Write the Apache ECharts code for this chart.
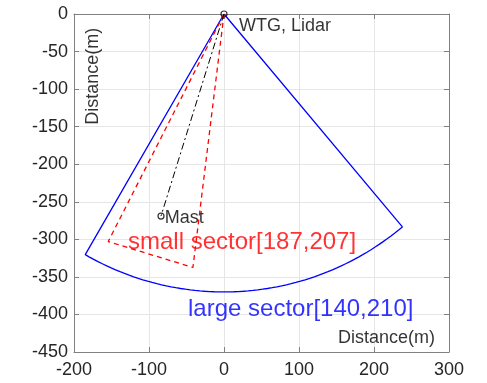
<!DOCTYPE html>
<html>
<head>
<meta charset="utf-8">
<script src="https://cdn.jsdelivr.net/npm/echarts@6/dist/echarts.min.js"></script>
<style>
  html, body { margin: 0; padding: 0; background: #fff; }
  #chart { width: 487px; height: 383px; }
</style>
</head>
<body>
<div id="chart"></div>
<script>
// sector angles (bearing, degrees clockwise from north) and ranges
var largeSector = [140, 210];
var smallSector = [187, 207];
var largeRadius = 370;
var smallRadius = 340;
var lidarPos = [0, 0];
var mastPos = [-84, -269];
var xTicks = [-200, 300, 100];
var yTicks = [-450, 0, 50];

function polar(r, deg) {
    var a = deg * Math.PI / 180;
    return [r * Math.sin(a), r * Math.cos(a)];
}

// large sector: two radii + arc
var largeLine = [lidarPos];
for (var d = largeSector[0]; d <= largeSector[1]; d += 1) {
    largeLine.push(polar(largeRadius, d));
}
largeLine.push(lidarPos);

// small sector: two radii + straight chord
var smallLine = [lidarPos, polar(smallRadius, smallSector[0]), polar(smallRadius, smallSector[1]), lidarPos];

var mastLine = [lidarPos, mastPos];

var font = 'Liberation Sans, Arial, sans-serif';
var txt = '#262626';

var dom = document.getElementById('chart');
var myChart = echarts.init(dom);

function xAxisDef(pos, labels) {
    return {
        type: 'value', position: pos,
        min: xTicks[0], max: xTicks[1], interval: xTicks[2],
        axisLine: { show: true, onZero: false, lineStyle: { color: '#808080', width: 1 } },
        axisTick: { show: true, inside: true, length: 5, lineStyle: { color: '#808080' } },
        axisLabel: { show: labels, color: txt, fontSize: 18, fontFamily: font, margin: 9 },
        splitLine: { show: labels, lineStyle: { color: '#e6e6e6', width: 1 } }
    };
}
function yAxisDef(pos, labels) {
    return {
        type: 'value', position: pos,
        min: yTicks[0], max: yTicks[1], interval: yTicks[2],
        axisLine: { show: true, onZero: false, lineStyle: { color: '#808080', width: 1 } },
        axisTick: { show: true, inside: true, length: 5, lineStyle: { color: '#808080' } },
        axisLabel: { show: labels, color: txt, fontSize: 18, fontFamily: font, margin: 6 },
        splitLine: { show: labels, lineStyle: { color: '#e6e6e6', width: 1 } }
    };
}

function note(x, y, text, color, size, rotate) {
    return {
        value: [x, y],
        label: {
            show: true, formatter: text, color: color, fontSize: size, fontFamily: font,
            position: rotate ? 'inside' : 'right', distance: 0, rotate: rotate || 0
        }
    };
}

var option = {
    animation: false,
    grid: { left: 74, right: 38, top: 14, bottom: 31 },
    xAxis: [xAxisDef('bottom', true), xAxisDef('top', false)],
    yAxis: [yAxisDef('left', true), yAxisDef('right', false)],
    series: [
        {
            type: 'line', data: largeLine, showSymbol: false,
            lineStyle: { color: '#0000ff', width: 1.3 }
        },
        {
            type: 'line', data: smallLine, showSymbol: false,
            lineStyle: { color: '#ff0000', width: 1.3, type: [5, 4] }
        },
        {
            type: 'line', data: mastLine, showSymbol: false,
            lineStyle: { color: '#000000', width: 1, type: [7, 3, 2, 3] }
        },
        {
            type: 'scatter', data: [lidarPos, mastPos],
            symbol: 'circle', symbolSize: 6,
            itemStyle: { color: 'transparent', borderColor: '#000', borderWidth: 1.2 }
        },
        {
            type: 'scatter', symbolSize: 0, silent: true,
            data: [
                note(20, -16, 'WTG, Lidar', '#000', 18),
                note(-79, -271, 'Mast', '#000', 18),
                note(-128, -304, 'small sector[187,207]', '#ff0000', 24),
                note(-48, -393, 'large sector[140,210]', '#0000ff', 24),
                note(152, -432, 'Distance(m)', '#000', 18),
                note(-175, -83, 'Distance(m)', '#000', 18, 90)
            ]
        }
    ]
};

if (option && typeof option === 'object') {
    myChart.setOption(option);
}
</script>
</body>
</html>
